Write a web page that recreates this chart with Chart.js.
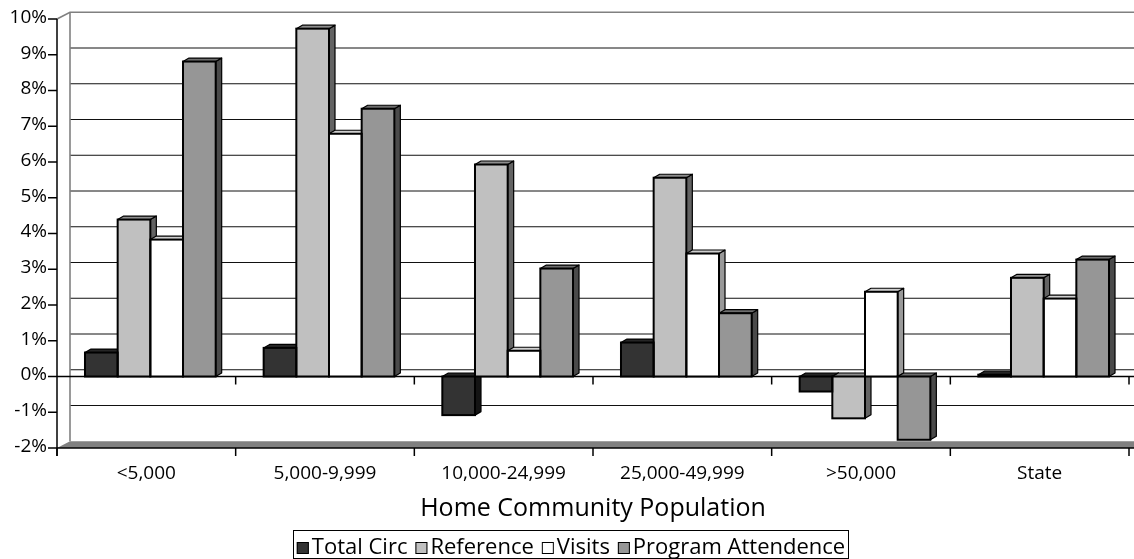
<!DOCTYPE html>
<html>
<head>
<meta charset="utf-8">
<script src="https://cdn.jsdelivr.net/npm/chart.js@4.4.1/dist/chart.umd.min.js"></script>
<style>
  html, body { margin: 0; padding: 0; background: #ffffff; }
  canvas { display: block; }
</style>
</head>
<body>
<canvas id="chart" width="1134" height="559"></canvas>
<script>
// Percent change by home community population
const categories = ['<5,000', '5,000-9,999', '10,000-24,999', '25,000-49,999', '>50,000', 'State'];
const totalCirc = [0.67, 0.80, -1.08, 0.95, -0.42, 0.05];
const reference = [4.39, 9.73, 5.93, 5.56, -1.17, 2.76];
const visits = [3.83, 6.79, 0.72, 3.44, 2.37, 2.18];
const programAttendence = [8.81, 7.49, 3.02, 1.77, -1.77, 3.27];
const seriesNames = ['Total Circ', 'Reference', 'Visits', 'Program Attendence'];
const yTicks = [10, 9, 8, 7, 6, 5, 4, 3, 2, 1, 0, -1, -2];
const xTitle = 'Home Community Population';

// Shades per series: front face, top face, right side face
const shades = [
  { front: '#333333', top: '#262626', side: '#141414' },
  { front: '#c0c0c0', top: '#8e8e8e', side: '#636363' },
  { front: '#ffffff', top: '#cfcfcf', side: '#999999' },
  { front: '#969696', top: '#6e6e6e', side: '#4a4a4a' }
];

const WALL = { dx: 13, dy: -6.75 };   // depth of the plot box
const BAR = { dx: 6, dy: -3.5 };      // depth of each column
const BAR_SHIFT = 4;                  // columns sit mid-depth, so they project slightly right
const FONT = '"Open Sans", "DejaVu Sans", sans-serif';

function seg(ctx, x1, y1, x2, y2) {
  ctx.beginPath(); ctx.moveTo(x1, y1); ctx.lineTo(x2, y2); ctx.stroke();
}
function poly(ctx, pts, fill, stroke, lw) {
  ctx.beginPath();
  ctx.moveTo(pts[0][0], pts[0][1]);
  for (let i = 1; i < pts.length; i++) ctx.lineTo(pts[i][0], pts[i][1]);
  ctx.closePath();
  if (fill) { ctx.fillStyle = fill; ctx.fill(); }
  if (stroke) { ctx.strokeStyle = stroke; ctx.lineWidth = lw; ctx.stroke(); }
}
function barBox(el) {
  const half = el.width / 2;
  return {
    l: el.x - half, r: el.x + half,
    t: Math.min(el.y, el.base), b: Math.max(el.y, el.base)
  };
}

const box3d = {
  id: 'box3d',
  afterDatasetsUpdate(chart) {
    chart.data.datasets.forEach((ds, i) => {
      chart.getDatasetMeta(i).data.forEach(el => { el.x += BAR_SHIFT; });
    });
  },
  beforeDatasetsDraw(chart) {
    const { ctx, chartArea: a, scales: { x, y } } = chart;
    const W = chart.width;
    const backL = a.left + WALL.dx;
    const catW = (a.right - a.left) / categories.length;
    const y0 = y.getPixelForValue(0);
    ctx.save();
    ctx.lineCap = 'butt';

    // gridlines on the back wall
    ctx.strokeStyle = '#111111';
    ctx.lineWidth = 1;
    yTicks.slice(1, -1).forEach(v => {
      const yy = y.getPixelForValue(v) + WALL.dy;
      seg(ctx, backL, yy, W, yy);
    });

    // wall edges
    ctx.strokeStyle = '#808080';
    ctx.lineWidth = 1.6;
    ctx.beginPath();
    ctx.moveTo(a.left, a.top);
    ctx.lineTo(backL, a.top + WALL.dy);
    ctx.lineTo(W, a.top + WALL.dy);
    ctx.stroke();
    seg(ctx, backL, a.top + WALL.dy, backL, a.bottom + WALL.dy);

    // floor
    poly(ctx, [[a.left, a.bottom], [backL, a.bottom + WALL.dy], [W, a.bottom + WALL.dy], [W, a.bottom]], '#808080');

    // front axes
    ctx.strokeStyle = '#000000';
    ctx.lineWidth = 1.5;
    seg(ctx, a.left, a.top, a.left, a.bottom + 8);
    seg(ctx, a.left, a.bottom, W, a.bottom);
    seg(ctx, a.left, y0, W, y0);
    yTicks.forEach(v => {
      const yy = y.getPixelForValue(v);
      seg(ctx, a.left - 9, yy, a.left, yy);
    });
    for (let i = 0; i <= categories.length; i++) {
      const xx = x.getPixelForValue(0) - catW / 2 + i * catW;
      seg(ctx, xx, a.bottom, xx, a.bottom + 8);
      if (i > 0) seg(ctx, xx, y0, xx, y0 + 8);
    }

    // column sides and tops (fronts come from the bar elements)
    ctx.lineJoin = 'round';
    chart.data.datasets.forEach((ds, i) => {
      const s = shades[i];
      chart.getDatasetMeta(i).data.forEach(el => {
        const b = barBox(el);
        poly(ctx, [[b.r, b.t], [b.r + BAR.dx, b.t + BAR.dy], [b.r + BAR.dx, b.b + BAR.dy], [b.r, b.b]], s.side, '#000', 1.2);
        poly(ctx, [[b.l, b.t], [b.r, b.t], [b.r + BAR.dx, b.t + BAR.dy], [b.l + BAR.dx, b.t + BAR.dy]], s.top, '#000', 1.2);
      });
    });
    ctx.restore();
  },
  afterDatasetsDraw(chart) {
    const { ctx } = chart;
    ctx.save();
    ctx.strokeStyle = '#000000';
    ctx.lineWidth = 2;
    ctx.lineJoin = 'miter';
    chart.data.datasets.forEach((ds, i) => {
      chart.getDatasetMeta(i).data.forEach(el => {
        const b = barBox(el);
        ctx.strokeRect(b.l, b.t, b.r - b.l, b.b - b.t);
      });
    });
    ctx.restore();
  },
  afterDraw(chart) {
    const { ctx, chartArea: a, scales: { x, y } } = chart;
    ctx.save();
    ctx.fillStyle = '#000000';

    // value axis labels
    ctx.font = '19px ' + FONT;
    ctx.textAlign = 'right';
    ctx.textBaseline = 'middle';
    yTicks.forEach(v => {
      ctx.fillText(v + '%', a.left - 10, y.getPixelForValue(v) - 1.5);
    });

    // category labels
    ctx.textAlign = 'center';
    categories.forEach((c, i) => {
      ctx.fillText(c, x.getPixelForValue(i), 474);
    });

    // axis title
    ctx.font = '25px ' + FONT;
    ctx.textBaseline = 'alphabetic';
    ctx.fillText(xTitle, (a.left + a.right) / 2, 516);

    // legend
    ctx.font = '22px ' + FONT;
    ctx.textAlign = 'left';
    const mark = 12, gapMark = 3, gapItem = 8;
    const widths = seriesNames.map(n => ctx.measureText(n).width);
    const total = widths.reduce((s, w) => s + w, 0) + seriesNames.length * (mark + gapMark) + (seriesNames.length - 1) * gapItem;
    const cx = 571;
    let lx = cx - total / 2;
    const boxL = lx - 4, boxR = lx + total + 3;
    ctx.strokeStyle = '#000000';
    ctx.lineWidth = 1;
    ctx.strokeRect(Math.round(boxL) + 0.5, 530.5, Math.round(boxR - boxL), 28);
    seriesNames.forEach((n, i) => {
      ctx.fillStyle = shades[i].front;
      ctx.fillRect(lx, 542, mark, mark);
      ctx.strokeRect(lx + 0.5, 542.5, mark - 1, mark - 1);
      ctx.fillStyle = '#000000';
      ctx.fillText(n, lx + mark + gapMark, 554);
      lx += mark + gapMark + widths[i] + gapItem;
    });
    ctx.restore();
  }
};

const seriesValues = [totalCirc, reference, visits, programAttendence];

new Chart(document.getElementById('chart'), {
  type: 'bar',
  data: {
    labels: categories,
    datasets: seriesNames.map((name, i) => ({
      label: name,
      data: seriesValues[i],
      backgroundColor: shades[i].front,
      borderWidth: 0,
      barPercentage: 1,
      categoryPercentage: 0.7315
    }))
  },
  options: {
    responsive: false,
    animation: false,
    devicePixelRatio: 1,
    events: [],
    layout: { padding: { left: 57, top: 19, right: 5, bottom: 111 } },
    plugins: { legend: { display: false }, tooltip: { enabled: false } },
    scales: {
      x: { display: false },
      y: { display: false, min: -2, max: 10 }
    }
  },
  plugins: [box3d]
});
</script>
</body>
</html>
